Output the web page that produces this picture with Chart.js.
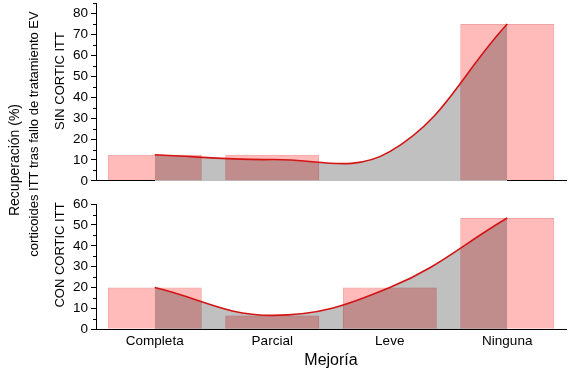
<!DOCTYPE html>
<html>
<head>
<meta charset="utf-8">
<script src="https://cdn.jsdelivr.net/npm/chart.js@4.4.1/dist/chart.umd.min.js"></script>
<style>
	body { margin: 0; background: #fff; }
	#wrap { position: relative; width: 575px; height: 376px; overflow: hidden; font-family: "Liberation Sans", Arial, sans-serif; }
	canvas { position: absolute; left: 0; }
	.vt { position: absolute; white-space: nowrap; color: #000; transform: translate(-50%, -50%) rotate(-90deg); line-height: 1; }
</style>
</head>
<body>
<div id="wrap">
	<canvas id="topChart" width="575" height="200" style="top:-8px"></canvas>
	<canvas id="bottomChart" width="575" height="183" style="top:193px"></canvas>
	<div class="vt" style="left:14px; top:160px; font-size:14px;">Recuperación (%)</div>
	<div class="vt" style="left:33px; top:134px; font-size:13px;">corticoides ITT tras fallo de tratamiento EV</div>
	<div class="vt" style="left:59px; top:81px; font-size:13px;">SIN CORTIC ITT</div>
	<div class="vt" style="left:59px; top:255px; font-size:13px;">CON CORTIC ITT</div>
</div>
<script>
const categories = ["Completa", "Parcial", "Leve", "Ninguna"];

// SIN CORTIC ITT
const sinBars = [12.5, 12.5, 0, 75];
const sinCurve = [12.5, 10.2, 14, 75];
const sinMax = 85;

// CON CORTIC ITT
const conBars = [20, 6.67, 20, 53.33];
const conCurve = [20, 6.67, 20, 53.33];
const conMax = 60;

const tickStep = 10;

const pinkFill = "#ffbaba";
const pinkLine = "#f3a2a2";
const greyFill = "#c0c0c0";
const redLine = "#d41414";

Chart.defaults.font.family = '"Liberation Sans", Arial, sans-serif';
Chart.defaults.color = "#000";

// pink bars are see-through: darker where they lie on the grey area
const multiplyBars = {
	id: "multiplyBars",
	beforeDatasetDraw(chart, args) {
		if (args.meta.type === "bar") {
			chart.ctx.save();
			chart.ctx.globalCompositeOperation = "multiply";
		}
	},
	afterDatasetDraw(chart, args) {
		if (args.meta.type === "bar") chart.ctx.restore();
	},
};

// short minor ticks halfway between the labelled ones
const minorTicks = {
	id: "minorTicks",
	afterDraw(chart) {
		const s = chart.scales.y;
		const ctx = chart.ctx;
		ctx.save();
		ctx.strokeStyle = "#000";
		ctx.lineWidth = 1;
		for (let v = tickStep / 2; v <= s.max; v += tickStep) {
			const y = Math.round(s.getPixelForValue(v)) + 0.5;
			ctx.beginPath();
			ctx.moveTo(s.right - 3, y);
			ctx.lineTo(s.right, y);
			ctx.stroke();
		}
		ctx.restore();
	},
};

function makeChart(id, bars, curve, yMax, showX, padBottom) {
	return new Chart(document.getElementById(id), {
		data: {
			labels: categories,
			datasets: [
				{
					type: "line",
					data: curve,
					borderWidth: 0,
					pointRadius: 0,
					tension: 0.4,
					fill: "origin",
					backgroundColor: greyFill,
					order: 3,
				},
				{
					type: "bar",
					data: bars,
					backgroundColor: pinkFill,
					borderColor: pinkLine,
					borderWidth: 1,
					categoryPercentage: 0.8,
					barPercentage: 1,
					order: 2,
				},
				{
					type: "line",
					data: curve,
					borderColor: redLine,
					borderWidth: 1.6,
					pointRadius: 0,
					tension: 0.4,
					fill: false,
					order: 1,
				},
			],
		},
		options: {
			responsive: false,
			animation: false,
			layout: {
				padding: { left: 0, right: 9, top: 9, bottom: padBottom },
			},
			plugins: {
				legend: { display: false },
				tooltip: { enabled: false },
			},
			scales: {
				x: {
					type: "category",
					offset: true,
					grid: { display: false, drawTicks: false },
					border: { display: true, color: "#000", width: 1 },
					ticks: {
						display: showX,
						padding: 4,
						font: { size: 13.5 },
						maxRotation: 0,
					},
					title: {
						display: showX,
						text: "Mejoría",
						font: { size: 16, lineHeight: 1 },
						padding: { top: -1, bottom: 0 },
					},
				},
				y: {
					min: 0,
					max: yMax,
					bounds: "data",
					afterFit: (scale) => {
						scale.width = 96;
					},
					afterBuildTicks: (scale) => {
						scale.ticks = scale.ticks.filter((t) => t.value % tickStep === 0);
					},
					grid: {
						drawOnChartArea: false,
						drawTicks: true,
						tickLength: 5,
						color: "#000",
					},
					border: { display: true, color: "#000", width: 1 },
					ticks: {
						stepSize: tickStep,
						includeBounds: false,
						padding: 3,
						font: { size: 13.5 },
					},
				},
			},
		},
		plugins: [multiplyBars, minorTicks],
	});
}

makeChart("topChart", sinBars, sinCurve, sinMax, false, 9);
makeChart("bottomChart", conBars, conCurve, conMax, true, 7.5);
</script>
</body>
</html>
